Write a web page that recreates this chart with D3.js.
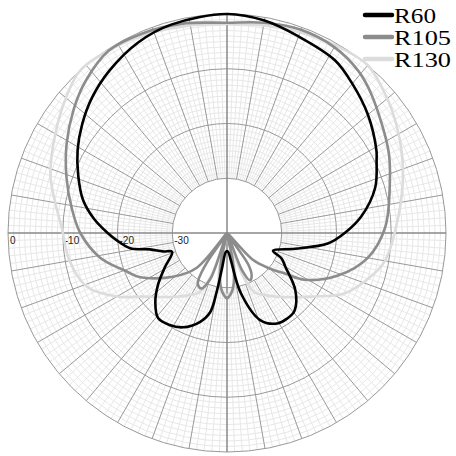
<!DOCTYPE html>
<html>
<head>
<meta charset="utf-8">
<script src="https://cdn.jsdelivr.net/npm/d3@7"></script>
<style>
  body { margin: 0; background: #fff; }
  #polar { width: 456px; height: 456px; }
</style>
</head>
<body>
<div id="polar"></div>
<script>
// radial tick labels (dB)
var ringLabels = ["0", "-10", "-20", "-30"];
var ringValues = [0, -10, -20, -30];

// R60 pattern (angle in degrees, clockwise from top; level in dB)
var r60Angles = [-176, -172, -170, -168, -163, -155, -148, -141, -134, -127, -119, -109, -106, -102, -99, -94, -90, -84, -77, -69, -61, -53, -45, -36, -25, -15,
                 0, 10, 20, 32, 40, 50, 61, 64, 73, 83, 90, 96, 103, 111, 115, 120, 130, 139, 145, 151, 159, 167, 172, 176, 180];
var r60Values = [-36.5, -33.5, -29, -25.2, -23, -21, -20.2, -20, -21.8, -24.2, -27, -29.4, -27.8, -25.6, -22.1, -19.9, -18.2, -15.6, -13, -10.9, -8.8, -6.9, -5.1, -3.4, -1.6, -0.6,
                 0, -0.6, -1.8, -2.8, -4.4, -6.4, -8.8, -9.6, -11.7, -15.3, -18.5, -21.5, -27.2, -31, -29, -27.7, -23.7, -21.2, -20.9, -21.1, -22.9, -28.7, -35, -36.5, -36.7];

// R105 pattern
var r105Angles = [-176, -172, -168, -164, -160, -155, -150, -146, -143, -139, -129, -117, -111, -101, -90, -81, -71, -61, -51, -43, -33, -23, -12,
                  0, 10, 20, 30, 39, 46, 63, 73, 88, 100, 111, 121, 125, 130, 136, 140, 146, 150, 154, 158, 163, 168, 172, 176, 180];
var r105Values = [-29, -31, -35, -40, -31, -28.8, -29.3, -33, -40, -31.6, -27.3, -22.2, -20.4, -16.4, -13.2, -11.3, -9, -6.5, -4, -2.1, -0.3, -0.4, -0.9,
                  -1.6, -1, -0.5, -0.8, -1.9, -3.4, -6.9, -8.9, -11.1, -13.9, -18.3, -23.4, -27.1, -30, -33.2, -40, -33, -31, -30.4, -32.7, -40, -35, -31, -29, -28.1];

// R130 pattern
var r130Angles = [-176, -172, -168, -164, -160, -155, -150, -141, -127, -120, -111, -100, -89, -72, -60, -50, -42, -30, -20, -10,
                  0, 10, 20, 30, 40, 50, 57, 65, 74, 88, 100, 108, 117, 127, 141, 150, 155, 160, 164, 168, 172, 176, 180];
var r130Values = [-29, -30, -33, -40, -32, -28, -27, -25, -20.7, -16.8, -12.6, -10.8, -9.9, -6.1, -3.8, -1.6, 0, -0.4, -1, -1.5,
                  -1.8, -1.5, -1, -0.4, 0, -1.8, -3.2, -4.8, -6.6, -9.1, -10.7, -12.9, -15.8, -20.7, -25, -27, -28, -32, -40, -33, -30, -29, -28.7];

var seriesNames = ["R60", "R105", "R130"];
var seriesColors = ["#000000", "#8c8c8c", "#dcdcdc"];

function initPolar() {
    var width = 456, height = 456;
    var cx = 227, cy = 233, outer = 219;

    var rScale = d3.scaleLinear()
                   .domain([-40, 0])
                   .range([0, outer])
                   .clamp(true);

    var svg = d3.select("#polar")
                .append("svg")
                .attr("width", width)
                .attr("height", height);

    var plot = svg.append("g")
                  .attr("transform", "translate(" + cx + "," + cy + ")");

    // light grid: 1 dB circles and 2 degree spokes, from -30 dB outwards
    plot.selectAll("circle.minor")
        .data(d3.range(-29, 0).filter(function(v) {return v % 10 !== 0;}))
        .enter()
        .append("circle")
        .attr("class", "minor")
        .attr("r", function(d) {return rScale(d);})
        .attr("fill", "none")
        .attr("stroke", "#e8e8e8")
        .attr("stroke-width", 1);

    plot.selectAll("line.minor")
        .data(d3.range(0, 360, 2).filter(function(a) {return a % 10 !== 0;}))
        .enter()
        .append("line")
        .attr("class", "minor")
        .attr("x1", function(d) {return rScale(-30) * Math.sin(d * Math.PI / 180);})
        .attr("y1", function(d) {return -rScale(-30) * Math.cos(d * Math.PI / 180);})
        .attr("x2", function(d) {return outer * Math.sin(d * Math.PI / 180);})
        .attr("y2", function(d) {return -outer * Math.cos(d * Math.PI / 180);})
        .attr("stroke", "#e8e8e8")
        .attr("stroke-width", 1);

    // darker grid: 10 dB circles and 10 degree spokes
    plot.selectAll("line.major")
        .data(d3.range(0, 360, 10).filter(function(a) {return a % 90 !== 0;}))
        .enter()
        .append("line")
        .attr("class", "major")
        .attr("x1", function(d) {return rScale(-30) * Math.sin(d * Math.PI / 180);})
        .attr("y1", function(d) {return -rScale(-30) * Math.cos(d * Math.PI / 180);})
        .attr("x2", function(d) {return outer * Math.sin(d * Math.PI / 180);})
        .attr("y2", function(d) {return -outer * Math.cos(d * Math.PI / 180);})
        .attr("stroke", "#999")
        .attr("stroke-width", 1);

    plot.selectAll("circle.major")
        .data(ringValues)
        .enter()
        .append("circle")
        .attr("class", "major")
        .attr("r", function(d) {return rScale(d);})
        .attr("fill", "none")
        .attr("stroke", "#999")
        .attr("stroke-width", 1);

    // axes through the centre
    plot.append("line")
        .attr("x1", -outer).attr("x2", outer).attr("y1", 0).attr("y2", 0)
        .attr("stroke", "#888").attr("stroke-width", 1.5);
    plot.append("line")
        .attr("x1", 0).attr("x2", 0).attr("y1", -outer).attr("y2", outer)
        .attr("stroke", "#888").attr("stroke-width", 1.5);

    plot.selectAll("text.ring")
        .data(ringValues)
        .enter()
        .append("text")
        .attr("class", "ring")
        .attr("x", function(d) {return -rScale(d) + 2;})
        .attr("y", 11)
        .attr("font-family", "Liberation Sans, Arial, sans-serif")
        .attr("font-size", 10)
        .attr("fill", "#222")
        .text(function(d, i) {return ringLabels[i];});

    // patterns
    var patterns = [
        {angles: r130Angles, values: r130Values, color: seriesColors[2], w: 2.6},
        {angles: r105Angles, values: r105Values, color: seriesColors[1], w: 2.6},
        {angles: r60Angles, values: r60Values, color: seriesColors[0], w: 2.6}
    ];

    var radial = d3.lineRadial()
                   .angle(function(d) {return d[0] * Math.PI / 180;})
                   .radius(function(d) {return rScale(d[1]);})
                   .curve(d3.curveCatmullRomClosed.alpha(0.5));

    plot.selectAll("path.pattern")
        .data(patterns)
        .enter()
        .append("path")
        .attr("class", "pattern")
        .attr("d", function(p) {return radial(d3.zip(p.angles, p.values));})
        .attr("fill", "none")
        .attr("stroke", function(p) {return p.color;})
        .attr("stroke-width", function(p) {return p.w;})
        .attr("stroke-linejoin", "round");

    // legend
    var legend = svg.append("g")
                    .attr("transform", "translate(365,15)");

    var rows = legend.selectAll("g")
                     .data(seriesNames)
                     .enter()
                     .append("g")
                     .attr("transform", function(d, i) {return "translate(0," + (i * 22) + ")";});

    rows.append("line")
        .attr("x1", 0).attr("x2", 27).attr("y1", 0).attr("y2", 0)
        .attr("stroke", function(d, i) {return seriesColors[i];})
        .attr("stroke-width", 4.5)
        .attr("stroke-linecap", "round");

    rows.append("text")
        .attr("x", 29)
        .attr("y", 8)
        .attr("font-family", "Liberation Serif, Times New Roman, serif")
        .attr("font-size", 22)
        .attr("textLength", function(d) {return d.length === 3 ? 42 : 57;})
        .attr("lengthAdjust", "spacingAndGlyphs")
        .attr("fill", "#000")
        .text(function(d) {return d;});
}

initPolar();
</script>
</body>
</html>
